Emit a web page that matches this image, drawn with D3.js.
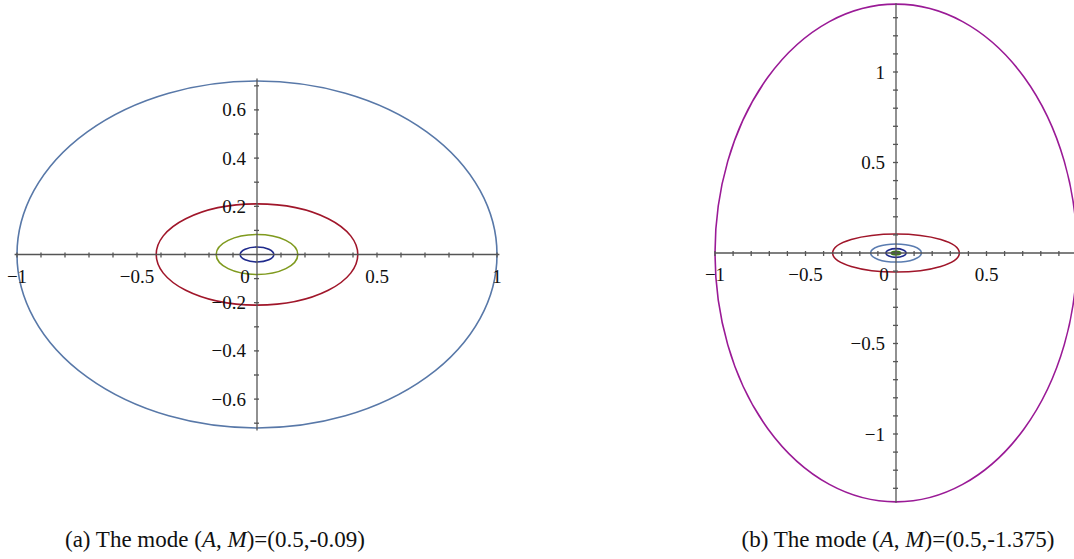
<!DOCTYPE html>
<html><head><meta charset="utf-8">
<script src="https://cdn.jsdelivr.net/npm/d3@7"></script>
<style>
body{margin:0;background:#fff;}
svg{display:block;}
text{font-family:"Liberation Serif","DejaVu Serif",serif;fill:#111;}
</style></head>
<body>
<script>
// ---- data ----
// panel (a): ellipse semi-axes (x, y) for each level curve
const aSemiX = [1.0, 0.42, 0.17, 0.07];
const aSemiY = [0.72, 0.21, 0.083, 0.031];
const aXTicks = [-1, -0.5, 0, 0.5, 1];
const aXTickLabels = ["\u22121", "\u22120.5", "0", "0.5", "1"];
const aYTicks = [-0.6, -0.4, -0.2, 0.2, 0.4, 0.6];
const aYTickLabels = ["\u22120.6", "\u22120.4", "\u22120.2", "0.2", "0.4", "0.6"];
// panel (b)
const bSemiX = [1.0, 0.35, 0.14, 0.056, 0.026];
const bSemiY = [1.375, 0.105, 0.05, 0.024, 0.01];
const bXTicks = [-1, -0.5, 0, 0.5];
const bXTickLabels = ["\u22121", "\u22120.5", "0", "0.5"];
const bYTicks = [-1, -0.5, 0.5, 1];
const bYTickLabels = ["\u22121", "\u22120.5", "0.5", "1"];
const captions = ["(a)", "(b)"];
const captionModes = ["(0.5,-0.09)", "(0.5,-1.375)"];

// ---- styles ----
const aColors = ["#5878a8", "#a0162a", "#7f9a1e", "#1f2a8c"];
const bColors = ["#9a1a96", "#a0162a", "#5a7cb0", "#1f2a8c", "#3f7a18"];

const W = 1074, H = 559;
const svg = d3.select("body").append("svg").attr("width", W).attr("height", H);

function panel(cfg) {
  const x = d3.scaleLinear().domain([-1, 1]).range(cfg.xr);
  const y = d3.scaleLinear().domain([-1, 1]).range([cfg.y0 + cfg.ky, cfg.y0 - cfg.ky]);
  const g = svg.append("g");
  g.selectAll("ellipse").data(cfg.sx).join("ellipse")
    .attr("cx", x(0)).attr("cy", y(0))
    .attr("rx", d => x(d) - x(0))
    .attr("ry", (d, i) => y(0) - y(cfg.sy[i]))
    .attr("fill", (d, i) => cfg.fillLast && i === cfg.sx.length - 1 ? cfg.colors[i] : "none")
    .attr("stroke", (d, i) => cfg.colors[i])
    .attr("stroke-width", 1.6);
  const axc = "#555";
  g.append("line").attr("x1", x(cfg.xext[0])).attr("x2", x(cfg.xext[1]))
    .attr("y1", y(0)).attr("y2", y(0)).attr("stroke", axc).attr("stroke-width", 1.3);
  g.append("line").attr("x1", x(0)).attr("x2", x(0))
    .attr("y1", y(cfg.yext[0])).attr("y2", y(cfg.yext[1])).attr("stroke", axc).attr("stroke-width", 1.3);
  const xm = d3.range(-10, 11).map(v => v / 10).filter(v => v !== 0 && v >= cfg.xext[0] - 1e-9 && v <= cfg.xext[1] + 1e-9);
  g.selectAll(".xt").data(xm).join("line").attr("class", "xt")
    .attr("x1", d => x(d)).attr("x2", d => x(d))
    .attr("y1", y(0) - 2).attr("y2", y(0) + 3).attr("stroke", axc).attr("stroke-width", 1.3);
  const ym = d3.range(-20, 21).map(v => v / 10).filter(v => v !== 0 && v >= cfg.yext[0] && v <= cfg.yext[1]);
  g.selectAll(".yt").data(ym).join("line").attr("class", "yt")
    .attr("y1", d => y(d)).attr("y2", d => y(d))
    .attr("x1", x(0) - 3).attr("x2", x(0) + 2).attr("stroke", axc).attr("stroke-width", 1.3);
  g.selectAll(".xl").data(cfg.xt).join("text").attr("class", "xl")
    .attr("x", d => d === 0 ? x(0) - 12 : x(d)).attr("y", y(0) + 28)
    .attr("text-anchor", "middle").attr("font-size", 19)
    .text((d, i) => cfg.xtl[i]);
  g.selectAll(".yl").data(cfg.yt).join("text").attr("class", "yl")
    .attr("x", x(0) - 11).attr("y", d => y(d) + 6.5)
    .attr("text-anchor", "end").attr("font-size", 19)
    .text((d, i) => cfg.ytl[i]);
}

panel({xr: [17, 497], y0: 254.5, ky: 241, sx: aSemiX, sy: aSemiY, colors: aColors,
  xext: [-1.01, 1.01], yext: [-0.73, 0.73], xt: aXTicks, xtl: aXTickLabels, yt: aYTicks, ytl: aYTickLabels});
panel({xr: [715, 1077], y0: 253, ky: 181, sx: bSemiX, sy: bSemiY, colors: bColors, fillLast: true,
  xext: [-1.0, 1.0], yext: [-1.38, 1.38], xt: bXTicks, xtl: bXTickLabels, yt: bYTicks, ytl: bYTickLabels});

const capX = [215, 898];
captions.forEach((c, i) => {
  const t = svg.append("text").attr("x", capX[i]).attr("y", 547)
    .attr("text-anchor", "middle").attr("font-size", 23);
  t.append("tspan").text(c + " The mode (");
  t.append("tspan").attr("font-style", "italic").text("A");
  t.append("tspan").text(", ");
  t.append("tspan").attr("font-style", "italic").text("M");
  t.append("tspan").text(")=" + captionModes[i]);
});
</script>
</body></html>
